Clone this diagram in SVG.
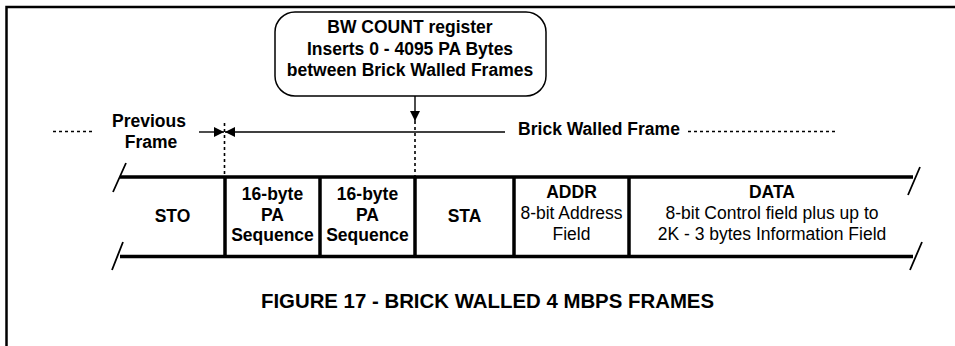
<svg xmlns="http://www.w3.org/2000/svg" width="955" height="346" viewBox="0 0 955 346">
<style>
text{font-family:"Liberation Sans",Arial,sans-serif;font-size:17.5px;fill:#000;text-anchor:middle}
.b{font-weight:bold}
.title{font-size:20.4px}
.thick{stroke:#000;stroke-width:3.5;fill:none}
.thin{stroke:#000;stroke-width:1.4;fill:none}
.slash{stroke:#000;stroke-width:1.8;fill:none}
.dot{stroke:#000;stroke-width:1.6;stroke-dasharray:3 3;fill:none}
</style>
<defs>
<marker id="ah" viewBox="0 0 10 10" refX="10" refY="5" markerWidth="10" markerHeight="11" markerUnits="userSpaceOnUse" orient="auto">
<path d="M0,0 L10,5 L0,10 Z" fill="#000"/>
</marker>
</defs>
<g id="border">
<path d="M6.5,346 V7 H955" stroke="#000" stroke-width="2.5" fill="none"/>
</g>
<g id="bubble">
<rect x="275" y="12" width="271" height="84" rx="20" ry="20" fill="#fff" stroke="#000" stroke-width="1.5"/>
<text class="b" x="410" y="33">BW COUNT register</text>
<text class="b" x="410" y="55">Inserts 0 - 4095 PA Bytes</text>
<text class="b" x="410" y="76">between Brick Walled Frames</text>
</g>
<g id="labels">
<text class="b" x="149" y="127">Previous</text>
<text class="b" x="151" y="148">Frame</text>
<text class="b" x="599" y="135">Brick Walled Frame</text>
</g>
<g id="frame">
<path class="thick" d="M120,177 H913 M120,256.5 H913"/>
<path class="thick" d="M225,177 V256.5 M320,177 V256.5 M415,177 V256.5 M514,177 V256.5 M629,177 V256.5"/>
<path class="slash" d="M113,192 L126,163 M112,270 L123,242 M908,195 L920,167 M910,270 L922,242"/>
</g>
<g id="sto"><text class="b" x="172.5" y="222">STO</text></g>
<g id="pa1">
<text class="b" x="272.5" y="200">16-byte</text>
<text class="b" x="272.5" y="221">PA</text>
<text class="b" x="272.5" y="241">Sequence</text>
</g>
<g id="pa2">
<text class="b" x="367.5" y="200">16-byte</text>
<text class="b" x="367.5" y="221">PA</text>
<text class="b" x="367.5" y="241">Sequence</text>
</g>
<g id="sta"><text class="b" x="464.5" y="222">STA</text></g>
<g id="addr">
<text class="b" x="571.5" y="198">ADDR</text>
<text x="571.5" y="219">8-bit Address</text>
<text x="571.5" y="240">Field</text>
</g>
<g id="data">
<text class="b" x="772" y="198">DATA</text>
<text x="772" y="219">8-bit Control field plus up to</text>
<text x="772" y="240">2K - 3 bytes Information Field</text>
</g>
<g id="connectors">
<path class="thin" d="M415,96 V121" marker-end="url(#ah)"/>
<path class="dot" d="M415,121 V176" stroke-width="1.3" stroke-dasharray="4 3"/>
<path class="thin" d="M199,132 H224" marker-end="url(#ah)"/>
<path class="thin" d="M505,132 H225" marker-end="url(#ah)"/>
<path class="dot" d="M224.5,123 V176"/>
<path class="dot" d="M53,131.5 H94"/>
<path class="dot" d="M688,131.5 H838"/>
</g>
<g id="title">
<text class="b title" x="487.5" y="308">FIGURE 17 - BRICK WALLED 4 MBPS FRAMES</text>
</g>
</svg>
